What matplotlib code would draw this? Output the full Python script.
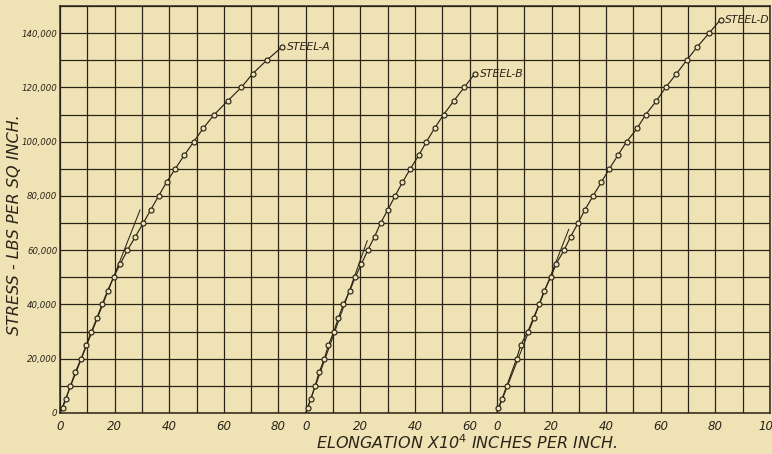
import matplotlib
matplotlib.use('Agg')
import matplotlib.pyplot as plt

# stress points, lbs per sq inch
stress_a = [2000, 5000, 10000, 15000, 20000, 25000, 30000, 35000, 40000, 45000,
            50000, 55000, 60000, 65000, 70000, 75000, 80000, 85000, 90000, 95000,
            100000, 105000, 110000, 115000, 120000, 125000, 130000, 135000]
elong_a = [1.0, 2.1, 3.8, 5.6, 7.7, 9.6, 11.5, 13.5, 15.4, 17.4,
           19.6, 22.1, 24.7, 27.6, 30.5, 33.3, 36.1, 39.0, 42.2, 45.5,
           49.0, 52.5, 56.5, 61.4, 66.4, 70.5, 75.7, 81.4]

stress_b = [2000, 5000, 10000, 15000, 20000, 25000, 30000, 35000, 40000, 45000,
            50000, 55000, 60000, 65000, 70000, 75000, 80000, 85000, 90000, 95000,
            100000, 105000, 110000, 115000, 120000, 125000]
elong_b = [0.7, 1.8, 3.4, 4.9, 6.8, 8.3, 10.3, 11.9, 13.8, 16.1,
           18.1, 20.4, 22.7, 25.2, 27.4, 30.1, 32.7, 35.4, 38.3, 41.4,
           44.2, 47.2, 50.5, 54.2, 58.0, 61.9]

stress_d = [2000, 5000, 10000, 20000, 25000, 30000, 35000, 40000, 45000,
            50000, 55000, 60000, 65000, 70000, 75000, 80000, 85000, 90000, 95000,
            100000, 105000, 110000, 115000, 120000, 125000, 130000, 135000,
            140000, 145000]
elong_d = [0.5, 1.8, 3.6, 7.2, 8.7, 11.3, 13.4, 15.4, 17.3,
           19.7, 21.7, 24.6, 27.0, 29.7, 32.3, 35.2, 38.2, 41.2, 44.3,
           47.5, 51.4, 54.5, 58.4, 61.8, 65.7, 69.5, 73.4,
           77.7, 81.9]

# straight lines drawn from the origin along the first part of each curve
tangent_end = {'A': (29.3, 74800), 'B': (22.5, 63500), 'D': (26.3, 67700)}

names = ['STEEL-A', 'STEEL-B', 'STEEL-D']
x_ticks_a = [0, 20, 40, 60, 80]
x_ticks_b = [0, 20, 40, 60]
x_ticks_d = [0, 20, 40, 60, 80, 100]
y_ticks = [0, 20000, 40000, 60000, 80000, 100000, 120000, 140000]

# each curve has its own zero on the shared grid
offsets = {'A': 0, 'B': 90, 'D': 160}

paper = '#efe3b5'
ink = '#2a2418'

fig = plt.figure(figsize=(7.72, 4.54), dpi=100, facecolor=paper)
ax = fig.add_axes([60 / 772, 41 / 454, 710 / 772, 407 / 454])
ax.set_facecolor(paper)

ax.set_xlim(0, 260)
ax.set_ylim(0, 150000)

# square grid, every 10 units / 10,000 lbs
for gx in range(0, 261, 10):
    ax.axvline(gx, color=ink, lw=0.9, zorder=1)
for gy in range(0, 150001, 10000):
    ax.axhline(gy, color=ink, lw=0.9, zorder=1)

for sp in ax.spines.values():
    sp.set_color(ink)
    sp.set_linewidth(1.1)

series = [('A', elong_a, stress_a), ('B', elong_b, stress_b), ('D', elong_d, stress_d)]
for (key, ex, st), name in zip(series, names):
    off = offsets[key]
    xs = [0 + off] + [e + off for e in ex]
    ys = [0] + st
    ax.plot(xs, ys, color=ink, lw=0.85, zorder=3)
    ax.plot(xs[1:], ys[1:], ls='none', marker='o', ms=3.6, mfc=paper,
            mec=ink, mew=0.85, zorder=4)
    tx, ty = tangent_end[key]
    ax.plot([off, tx + off], [0, ty], color=ink, lw=0.75, zorder=2)
    ax.annotate(name, (xs[-1], ys[-1]), xytext=(3.5, 0), textcoords='offset points',
                fontsize=7.8, style='italic', color=ink, va='center', ha='left',
                zorder=5)

tick_pos = ([t + offsets['A'] for t in x_ticks_a] + [t + offsets['B'] for t in x_ticks_b]
            + [t + offsets['D'] for t in x_ticks_d])
tick_lab = [str(t) for t in x_ticks_a + x_ticks_b + x_ticks_d]
ax.set_xticks(tick_pos)
ax.set_xticklabels(tick_lab, fontsize=8.5, style='italic', color=ink)
ax.set_yticks(y_ticks)
ax.set_yticklabels(['0' if v == 0 else f'{v:,}' for v in y_ticks],
                   fontsize=6.2, style='italic', color=ink)
ax.tick_params(axis='x', length=0, pad=5)
ax.tick_params(axis='y', length=0, pad=2)

fig.text(15 / 772, 1 - 225 / 454, 'STRESS - LBS PER SQ INCH.', rotation=90,
         fontsize=11.5, style='italic', color=ink, ha='center', va='center')
fig.text(467 / 772, 1 - 443 / 454, 'ELONGATION X10$^4$ INCHES PER INCH.',
         fontsize=11.5, style='italic', color=ink, ha='center', va='center')

fig.savefig('out.png', dpi=100, facecolor=paper)
